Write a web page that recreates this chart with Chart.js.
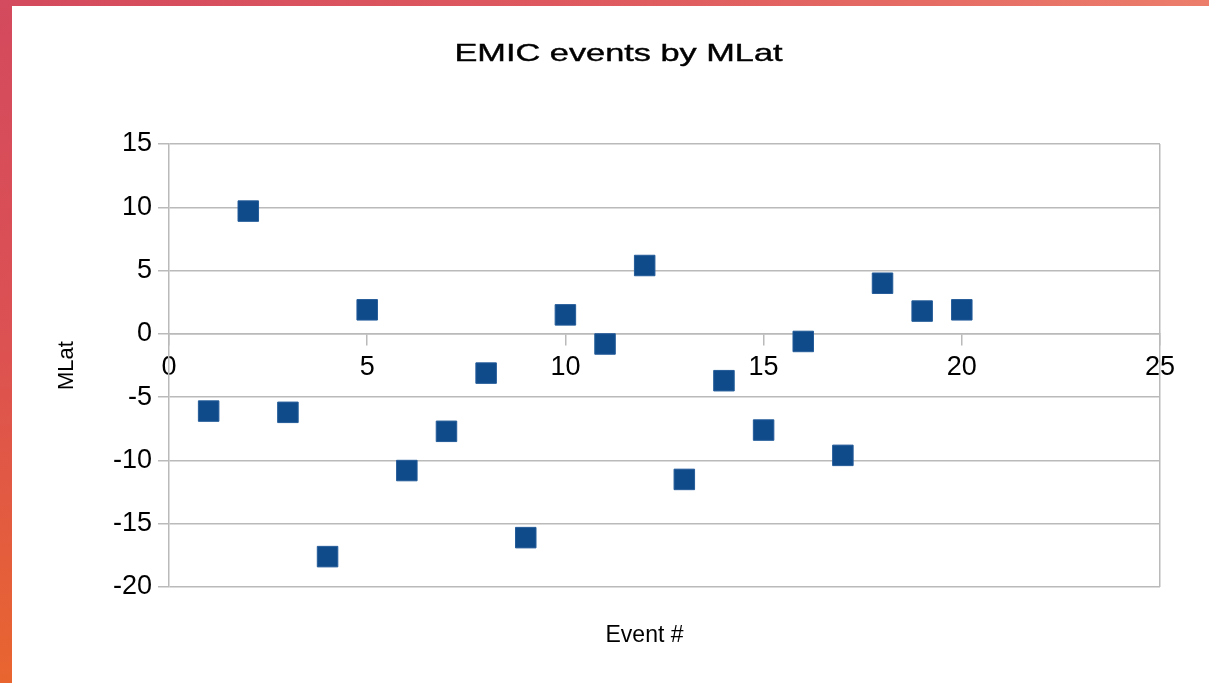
<!DOCTYPE html>
<html>
<head>
<meta charset="utf-8">
<title>EMIC events by MLat</title>
<script src="https://cdn.jsdelivr.net/npm/chart.js@4.4.1/dist/chart.umd.min.js"></script>
<style>
  html, body { margin: 0; padding: 0; width: 1209px; height: 683px; overflow: hidden; background: #fff; }
  #top-strip { position: absolute; left: 0; top: 0; width: 1209px; height: 6px;
    background: linear-gradient(to right, #d44a5e, #df5c5f 55%, #ec7d6b); }
  #left-strip { position: absolute; left: 0; top: 0; width: 12px; height: 683px;
    background: linear-gradient(to bottom, #d44a5e, #dc5152 50%, #e9652f); }
  #wrap { position: absolute; left: 12px; top: 6px; width: 1197px; height: 677px; }
</style>
</head>
<body>
<div id="top-strip"></div>
<div id="left-strip"></div>
<div id="wrap"><canvas id="myChart"></canvas></div>
<script>
// data
const chartTitle = 'EMIC events by MLat';
const xLabel = 'Event #';
const yLabel = 'MLat';
const eventNumbers = [1, 2, 3, 4, 5, 6, 7, 8, 9, 10, 11, 12, 13, 14, 15, 16, 17, 18, 19, 20];
const mlat = [-6.1, 9.7, -6.2, -17.6, 1.9, -10.8, -7.7, -3.1, -16.1, 1.5, -0.8, 5.4, -11.5, -3.7, -7.6, -0.6, -9.6, 4.0, 1.8, 1.9];
const xTicks = [0, 5, 10, 15, 20, 25];
const yTicks = [-20, -15, -10, -5, 0, 5, 10, 15];

const family = "'Liberation Sans', Arial, sans-serif";
const gridColor = '#bababa';

// title in the picture is drawn wider than normal, so stretch it
const stretchedTitle = {
    id: 'stretchedTitle',
    afterLayout(chart) {
        // the axis title sits a bit left of the plot centre in the original
        const s = chart.scales.xTitle;
        s.left -= 40;
    },
    afterDraw(chart, args, opts) {
        const ctx = chart.ctx;
        ctx.save();
        ctx.font = opts.size + 'px ' + family;
        ctx.fillStyle = opts.color;
        ctx.strokeStyle = opts.color;
        ctx.lineWidth = 0.4;
        ctx.textAlign = 'center';
        ctx.textBaseline = 'alphabetic';
        ctx.translate(chart.width / 2 + opts.shift, opts.baseline);
        ctx.scale(opts.stretch, 1);
        ctx.fillText(opts.text, 0, 0);
        ctx.strokeText(opts.text, 0, 0);
        ctx.restore();
    }
};

new Chart(document.getElementById('myChart'), {
    type: 'scatter',
    data: {
        datasets: [{
            label: yLabel,
            data: eventNumbers.map((n, i) => ({ x: n, y: mlat[i] })),
            xAxisID: 'x',
            yAxisID: 'y',
            backgroundColor: '#0f4a8b',
            borderColor: '#245c99',
            borderWidth: 1,
            pointStyle: 'rect',
            pointRadius: 14.5,
            pointHoverRadius: 14.5
        }]
    },
    options: {
        responsive: true,
        maintainAspectRatio: false,
        animation: false,
        events: [],
        layout: { padding: { top: 138, right: 49, bottom: 0, left: 0 } },
        plugins: {
            legend: { display: false },
            tooltip: { enabled: false },
            stretchedTitle: { text: chartTitle, size: 24, color: '#000', stretch: 1.43, baseline: 55, shift: 8 }
        },
        scales: {
            x: {
                type: 'linear',
                position: { y: 0 },
                min: xTicks[0],
                max: xTicks[xTicks.length - 1],
                afterBuildTicks: s => { s.ticks = xTicks.map(v => ({ value: v })); },
                afterFit: s => { s.height = 0; },
                grid: {
                    drawOnChartArea: true,
                    color: c => (c.tick && c.tick.value === xTicks[xTicks.length - 1]) ? gridColor : 'rgba(0,0,0,0)',
                    tickColor: gridColor,
                    tickLength: 11,
                    lineWidth: 1.5
                },
                border: { display: true, color: gridColor, width: 1.5 },
                ticks: { padding: 6, color: '#000', autoSkip: false, maxRotation: 0, font: { size: 27, family: family } }
            },
            xTitle: {
                type: 'linear',
                position: 'bottom',
                min: xTicks[0],
                max: xTicks[xTicks.length - 1],
                afterFit: s => { s.height = 96; },
                ticks: { display: false },
                grid: { display: false },
                border: { display: false },
                title: { display: true, text: xLabel, color: '#000', padding: { top: 34, bottom: 34 }, font: { size: 23, family: family } }
            },
            y: {
                type: 'linear',
                position: 'left',
                min: yTicks[0],
                max: yTicks[yTicks.length - 1],
                afterBuildTicks: s => { s.ticks = yTicks.map(v => ({ value: v })); },
                afterFit: s => { s.width = 157; },
                grid: { color: gridColor, tickColor: gridColor, tickLength: 11, lineWidth: 1.5 },
                border: { color: gridColor, width: 1.5 },
                ticks: { padding: 6, color: '#000', font: { size: 27, family: family } },
                title: { display: true, text: yLabel, color: '#000', padding: { top: 42, bottom: 0 }, font: { size: 22, family: family } }
            }
        }
    },
    plugins: [stretchedTitle]
});
</script>
</body>
</html>
